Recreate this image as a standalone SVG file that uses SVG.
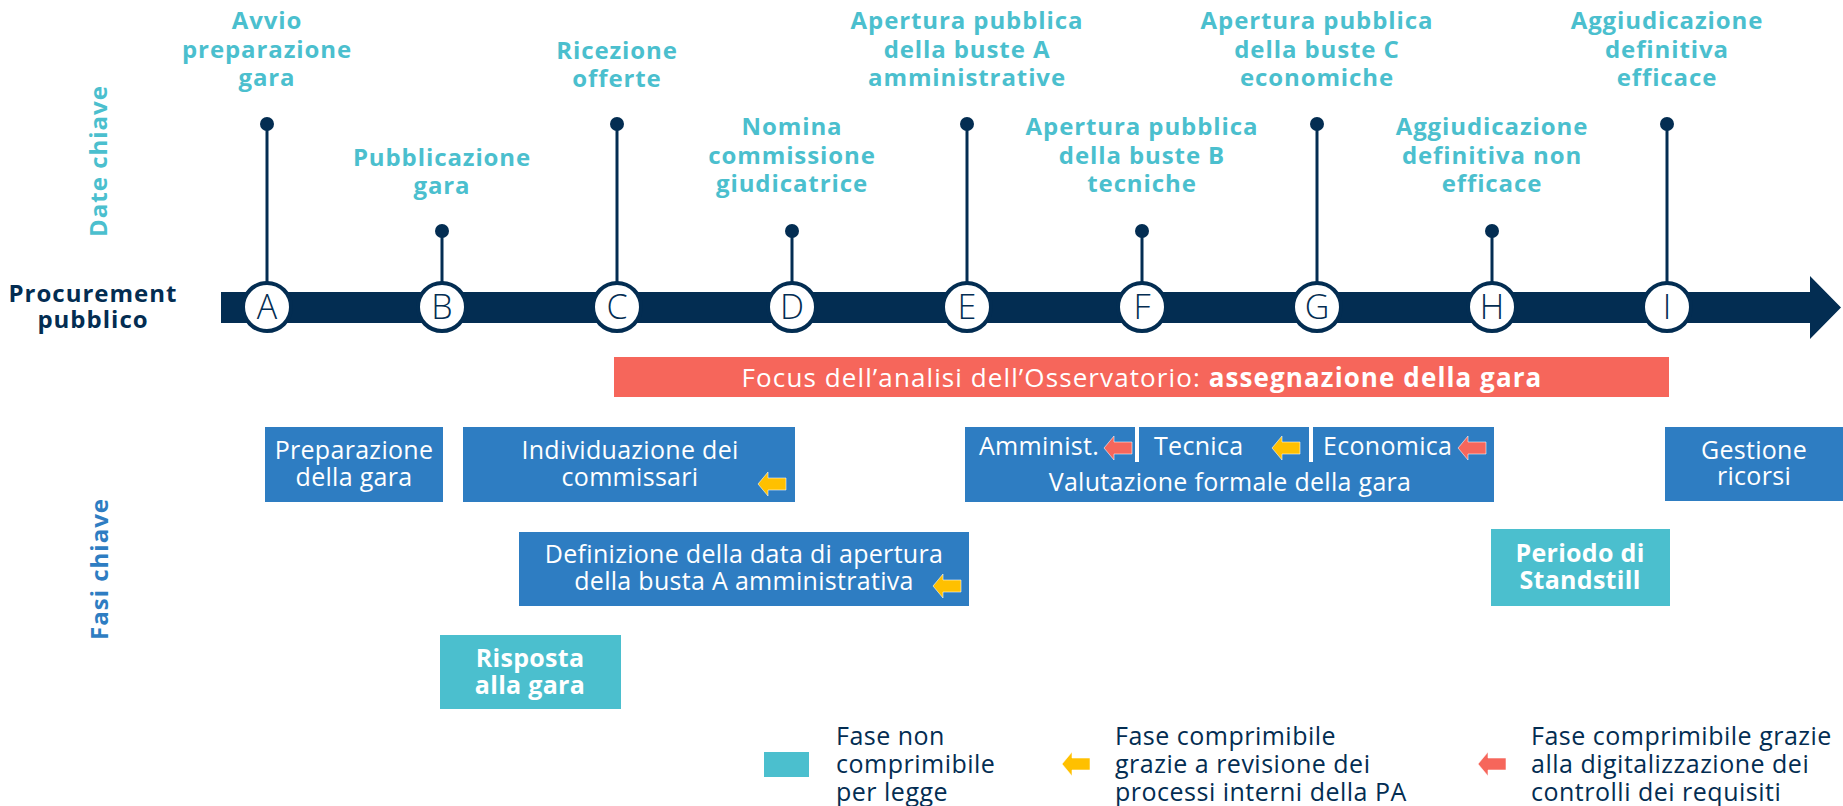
<svg xmlns="http://www.w3.org/2000/svg" xmlns:xlink="http://www.w3.org/1999/xlink" width="1843" height="806" viewBox="0 0 1843 806">
<style>
.lbl{font-family:"Open Sans","Liberation Sans",sans-serif;font-weight:700;font-size:24px;letter-spacing:0.9px;fill:#4BBFCE;text-anchor:middle}
.ltr{font-family:"Open Sans","Liberation Sans",sans-serif;font-weight:300;font-size:34px;fill:#032D52;text-anchor:middle}
.bx{fill:#2E7DC2}
.tl{fill:#4BBFCE}
.bt{font-family:"Open Sans","Liberation Sans",sans-serif;font-size:25px;letter-spacing:0.3px;fill:#fff;text-anchor:middle}
.bts{font-family:"Open Sans","Liberation Sans",sans-serif;font-size:25px;letter-spacing:0.3px;fill:#fff}
.fc{font-family:"Open Sans","Liberation Sans",sans-serif;font-size:26px;letter-spacing:1.1px;fill:#fff;text-anchor:middle}
.bold{font-weight:700}
.leg{font-family:"Open Sans","Liberation Sans",sans-serif;font-size:25px;letter-spacing:0.5px;fill:#032D52}
.stem{stroke:#032D52;stroke-width:3}
.dot{fill:#032D52}
.circ{fill:#fff;stroke:#032D52;stroke-width:4}
.ya{fill:#FFC000;stroke:#fff;stroke-width:0.8;stroke-opacity:0.7}
.ra{fill:#F6665B;stroke:#fff;stroke-width:0.8;stroke-opacity:0.7}
.side{font-family:"Open Sans","Liberation Sans",sans-serif;font-weight:700;font-size:24px;letter-spacing:1px;text-anchor:middle}
</style>
<defs>
<path id="arr" d="M0,12 L10,0 L10,6 L28,6 L28,18 L10,18 L10,24 Z"/>
</defs>
<rect width="1843" height="806" fill="#fff"/>

<g id="axis-labels">
<text class="side" transform="translate(107,161) rotate(-90)" fill="#4BBFCE">Date chiave</text>
<text class="side" transform="translate(108,569) rotate(-90)" fill="#2E7DC2">Fasi chiave</text>
<text class="side" fill="#032D52"><tspan x="93" y="302">Procurement</tspan><tspan x="93" y="328">pubblico</tspan></text>
</g>

<g id="connectors">
<path d="M221,292 H1810 V276 L1841,307.5 L1810,339 V323 H221 Z" fill="#032D52"/>
<line class="stem" x1="267" y1="124" x2="267" y2="283"/>
<line class="stem" x1="442" y1="231" x2="442" y2="283"/>
<line class="stem" x1="617" y1="124" x2="617" y2="283"/>
<line class="stem" x1="792" y1="231" x2="792" y2="283"/>
<line class="stem" x1="967" y1="124" x2="967" y2="283"/>
<line class="stem" x1="1142" y1="231" x2="1142" y2="283"/>
<line class="stem" x1="1317" y1="124" x2="1317" y2="283"/>
<line class="stem" x1="1492" y1="231" x2="1492" y2="283"/>
<line class="stem" x1="1667" y1="124" x2="1667" y2="283"/>
<circle class="dot" cx="267" cy="124" r="7"/>
<circle class="dot" cx="442" cy="231" r="7"/>
<circle class="dot" cx="617" cy="124" r="7"/>
<circle class="dot" cx="792" cy="231" r="7"/>
<circle class="dot" cx="967" cy="124" r="7"/>
<circle class="dot" cx="1142" cy="231" r="7"/>
<circle class="dot" cx="1317" cy="124" r="7"/>
<circle class="dot" cx="1492" cy="231" r="7"/>
<circle class="dot" cx="1667" cy="124" r="7"/>
</g>

<g id="node-A"><circle class="circ" cx="267" cy="307" r="24"/><text class="ltr" x="267" y="319">A</text>
<text class="lbl"><tspan x="267" y="29">Avvio</tspan><tspan x="267" y="57.5">preparazione</tspan><tspan x="267" y="86">gara</tspan></text></g>
<g id="node-B"><circle class="circ" cx="442" cy="307" r="24"/><text class="ltr" x="442" y="319">B</text>
<text class="lbl"><tspan x="442" y="166">Pubblicazione</tspan><tspan x="442" y="194">gara</tspan></text></g>
<g id="node-C"><circle class="circ" cx="617" cy="307" r="24"/><text class="ltr" x="617" y="319">C</text>
<text class="lbl"><tspan x="617" y="59">Ricezione</tspan><tspan x="617" y="87">offerte</tspan></text></g>
<g id="node-D"><circle class="circ" cx="792" cy="307" r="24"/><text class="ltr" x="792" y="319">D</text>
<text class="lbl"><tspan x="792" y="135">Nomina</tspan><tspan x="792" y="163.5">commissione</tspan><tspan x="792" y="192">giudicatrice</tspan></text></g>
<g id="node-E"><circle class="circ" cx="967" cy="307" r="24"/><text class="ltr" x="967" y="319">E</text>
<text class="lbl"><tspan x="967" y="29">Apertura pubblica</tspan><tspan x="967" y="57.5">della buste A</tspan><tspan x="967" y="86">amministrative</tspan></text></g>
<g id="node-F"><circle class="circ" cx="1142" cy="307" r="24"/><text class="ltr" x="1142" y="319">F</text>
<text class="lbl"><tspan x="1142" y="135">Apertura pubblica</tspan><tspan x="1142" y="163.5">della buste B</tspan><tspan x="1142" y="192">tecniche</tspan></text></g>
<g id="node-G"><circle class="circ" cx="1317" cy="307" r="24"/><text class="ltr" x="1317" y="319">G</text>
<text class="lbl"><tspan x="1317" y="29">Apertura pubblica</tspan><tspan x="1317" y="57.5">della buste C</tspan><tspan x="1317" y="86">economiche</tspan></text></g>
<g id="node-H"><circle class="circ" cx="1492" cy="307" r="24"/><text class="ltr" x="1492" y="319">H</text>
<text class="lbl"><tspan x="1492" y="135">Aggiudicazione</tspan><tspan x="1492" y="163.5">definitiva non</tspan><tspan x="1492" y="192">efficace</tspan></text></g>
<g id="node-I"><circle class="circ" cx="1667" cy="307" r="24"/><text class="ltr" x="1667" y="319">I</text>
<text class="lbl"><tspan x="1667" y="29">Aggiudicazione</tspan><tspan x="1667" y="57.5">definitiva</tspan><tspan x="1667" y="86">efficace</tspan></text></g>

<g id="focus">
<rect x="614" y="357" width="1055" height="40" fill="#F6665B"/>
<text class="fc" x="1142" y="387">Focus dell’analisi dell’Osservatorio: <tspan class="bold">assegnazione della gara</tspan></text>
</g>

<g id="preparazione">
<rect class="bx" x="265" y="427" width="178" height="75"/>
<text class="bt"><tspan x="354" y="459">Preparazione</tspan><tspan x="354" y="486">della gara</tspan></text>
</g>
<g id="individuazione">
<rect class="bx" x="463" y="427" width="332" height="75"/>
<text class="bt"><tspan x="630" y="459">Individuazione dei</tspan><tspan x="630" y="486">commissari</tspan></text>
<use xlink:href="#arr" href="#arr" class="ya" x="758" y="472"/>
</g>
<g id="definizione">
<rect class="bx" x="519" y="532" width="450" height="74"/>
<text class="bt"><tspan x="744" y="563">Definizione della data di apertura</tspan><tspan x="744" y="590">della busta A amministrativa</tspan></text>
<use xlink:href="#arr" href="#arr" class="ya" x="933" y="574"/>
</g>
<g id="risposta">
<rect class="tl" x="440" y="635" width="181" height="74"/>
<text class="bt bold"><tspan x="530" y="667">Risposta</tspan><tspan x="530" y="694">alla gara</tspan></text>
</g>
<g id="valutazione">
<rect class="bx" x="965" y="427" width="529" height="75"/>
<rect x="1135" y="425" width="4" height="37" fill="#fff"/>
<rect x="1309" y="425" width="4" height="37" fill="#fff"/>
<text class="bts" x="979" y="455">Amminist.</text>
<use xlink:href="#arr" href="#arr" class="ra" x="1104" y="436"/>
<text class="bts" x="1154" y="455">Tecnica</text>
<use xlink:href="#arr" href="#arr" class="ya" x="1272" y="436"/>
<text class="bts" x="1323" y="455">Economica</text>
<use xlink:href="#arr" href="#arr" class="ra" x="1458" y="436"/>
<text class="bt" x="1230" y="491">Valutazione formale della gara</text>
</g>
<g id="gestione">
<rect class="bx" x="1665" y="427" width="178" height="74"/>
<text class="bt"><tspan x="1754" y="459">Gestione</tspan><tspan x="1754" y="485">ricorsi</tspan></text>
</g>
<g id="standstill">
<rect class="tl" x="1491" y="529" width="179" height="77"/>
<text class="bt bold"><tspan x="1580" y="562">Periodo di</tspan><tspan x="1580" y="589">Standstill</tspan></text>
</g>

<g id="legend">
<rect class="tl" x="764" y="752" width="45" height="25"/>
<text class="leg"><tspan x="836" y="745">Fase non</tspan><tspan x="836" y="773">comprimibile</tspan><tspan x="836" y="801">per legge</tspan></text>
<use xlink:href="#arr" href="#arr" class="ya" x="1062" y="752"/>
<text class="leg"><tspan x="1115" y="745">Fase comprimibile</tspan><tspan x="1115" y="773">grazie a revisione dei</tspan><tspan x="1115" y="801">processi interni della PA</tspan></text>
<use xlink:href="#arr" href="#arr" class="ra" x="1478" y="752"/>
<text class="leg"><tspan x="1531" y="745">Fase comprimibile grazie</tspan><tspan x="1531" y="773">alla digitalizzazione dei</tspan><tspan x="1531" y="801">controlli dei requisiti</tspan></text>
</g>
</svg>
